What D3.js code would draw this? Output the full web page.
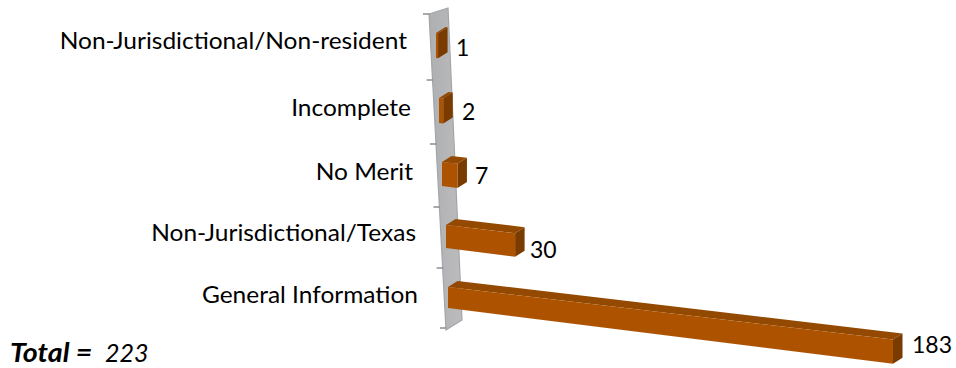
<!DOCTYPE html>
<html><head><meta charset="utf-8">
<style>html,body{margin:0;background:#fff}svg{display:block}text{font-family:Lato,"Open Sans",sans-serif;fill:#000}</style>
<script src="https://cdnjs.cloudflare.com/ajax/libs/d3/7.8.5/d3.min.js"></script>
</head><body><div id="c"></div>
<script>
const categories=["Non-Jurisdictional/Non-resident","Incomplete","No Merit","Non-Jurisdictional/Texas","General Information"];
const values=[1,2,7,30,183];
const totalLabel="Total =";
const totalValue="223";

const W=956,H=368;
const svg=d3.select("#c").append("svg").attr("width",W).attr("height",H);
const defs=svg.append("defs");
defs.append("filter").attr("id","soft").append("feGaussianBlur").attr("stdDeviation",0.75);
const wallGrad=defs.append("linearGradient").attr("id","wallG").attr("x1",0).attr("x2",1).attr("y1",0).attr("y2",0);
wallGrad.append("stop").attr("offset",0).attr("stop-color","#aeafb1");
wallGrad.append("stop").attr("offset",1).attr("stop-color","#bcbcbd");

// perspective layout
const idx=d3.scaleLinear().domain(d3.range(6)).range([14,80,144,207,268,328]);
const wallLeft=d3.scaleLinear().domain([14,330]).range([429,446]);
const barLeft=d3.scaleLinear().domain(d3.range(5)).range([436,439,442,446,448]);
const barTop=d3.scaleLinear().domain(d3.range(5)).range([33,98,162,225,287]);
const barBottom=d3.scaleLinear().domain(d3.range(5)).range([58,123,186,248,308]);
const len=d3.scalePow().exponent(1.03).domain([0,183]).range([0,445]);
const slopeTop=0.118,slopeBottom=0.125,depthX=9.5,depthY=-6;

const line=pts=>"M"+pts.map(p=>p.join(",")).join("L")+"Z";
const g=svg.append("g").attr("filter","url(#soft)");

// wall
g.append("path").attr("d",line([[429,14],[448,8],[462,320],[446,330]]))
 .attr("fill","url(#wallG)").attr("stroke","#a3a6a9").attr("stroke-width",1.2);

// ticks
g.selectAll(".tick").data(d3.range(6)).join("line")
 .attr("x1",i=>wallLeft(idx(i))-6).attr("x2",i=>wallLeft(idx(i))+0.5)
 .attr("y1",i=>idx(i)).attr("y2",i=>idx(i))
 .attr("stroke","#8e8e8e").attr("stroke-width",1.5);

// bars
const geom=values.map((v,i)=>{
  const l=len(v),x0=barLeft(i),t0=barTop(i),b0=barBottom(i);
  const fr=[x0+l,t0+l*slopeTop],brr=[x0+l,b0+l*slopeBottom];
  return {x0,t0,b0,fr,brr,
    front:[[x0,t0],fr,brr,[x0,b0]],
    top:[[x0,t0],[x0+depthX,t0+depthY],[fr[0]+depthX,fr[1]+depthY],fr],
    side:[fr,[fr[0]+depthX,fr[1]+depthY],[brr[0]+depthX,brr[1]+depthY],brr]};
});
const bars=g.selectAll(".bar").data(geom).join("g");
bars.append("path").attr("d",d=>line(d.top)).attr("fill","#934a06");
bars.append("path").attr("d",d=>line(d.side)).attr("fill","#793a02");
bars.append("path").attr("d",d=>line(d.front)).attr("fill","#ad5203");

// category labels: wider than the font's natural width, so stretched horizontally
const labelEnd=[407,411,413,416,418],labelMid=[41,108,172,233,295];
svg.selectAll(".cat").data(categories).join("text")
 .attr("transform",(d,i)=>`translate(${labelEnd[i]},${labelMid[i]}) scale(1.065,1)`)
 .attr("dy","0.35em")
 .attr("text-anchor","end").attr("font-size",23).text(d=>d);

// value labels
const valX=[456,462,475,530,912],valMid=[48,112,176,250,345];
svg.selectAll(".val").data(values).join("text")
 .attr("x",(d,i)=>valX[i]).attr("y",(d,i)=>valMid[i]).attr("dy","0.35em")
 .attr("font-size",23).text(d=>d);

svg.append("text").attr("transform","translate(10,362) scale(1.1,1)").attr("font-size",26).attr("font-weight",700).attr("font-style","italic").text(totalLabel);
svg.append("text").attr("x",105).attr("y",362).attr("font-size",25).attr("font-style","italic").text(totalValue);
</script></body></html>
